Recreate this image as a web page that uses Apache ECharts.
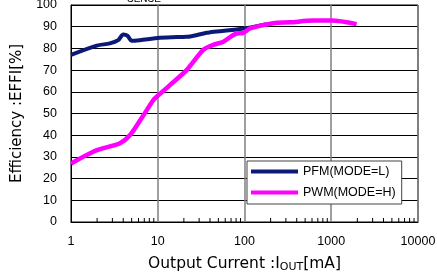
<!DOCTYPE html>
<html>
<head>
<meta charset="utf-8">
<script src="https://cdn.jsdelivr.net/npm/echarts@6/dist/echarts.min.js"></script>
<style>html,body{margin:0;padding:0;background:#fff;}#c{width:437px;height:275px;}</style>
</head>
<body>
<div id="c"></div>
<script>
const pfmCurrent = [1, 1.98, 2.8, 3.5, 4.0, 4.5, 5.0, 6.2, 10.6, 21.5, 23.5, 36.6, 40, 89, 180];
const pfmEffi    = [77, 81.3, 82.3, 83.8, 86.4, 85.8, 83.5, 83.8, 84.9, 85.4, 85.5, 87.2, 87.4, 88.9, 91.2];
const pwmCurrent = [1, 1.8, 2.36, 3.67, 4.8, 6.5, 8.9, 9.7, 13.8, 21.5, 33.5, 43.7, 57, 77.7, 97, 116, 214, 334, 620, 1000, 1960];
const pwmEffi    = [27, 32.4, 34, 36.3, 40.1, 47.8, 56.2, 57.7, 63.1, 70, 79.3, 81.6, 83.1, 86.6, 87.2, 89.2, 91.6, 92, 92.8, 92.8, 91.2];
const minorTickValues = [2,3,4,5,6,7,8,9,20,30,40,50,60,70,80,90,200,300,400,500,600,700,800,900,2000,3000,4000,5000,6000,7000,8000,9000];
const seriesNames = ['PFM(MODE=L)', 'PWM(MODE=H)'];
const yTicks = [0,10,20,30,40,50,60,70,80,90,100];
const xTickLabels = {1: '1', 10: '10', 100: '100', 1000: '1000', 10000: '10000'};

const chart = echarts.init(document.getElementById('c'), null, {renderer: 'canvas'});
const font = 'Liberation Sans, Arial, sans-serif';
const nameFont = 'DejaVu Sans, sans-serif';
chart.setOption({
  animation: false,
  backgroundColor: '#fff',
  grid: {left: 71, right: 19, top: 5, bottom: 53, show: true, borderColor: '#000', borderWidth: 1,
    backgroundColor: 'transparent', containLabel: false, outerBoundsMode: 'none'},
  xAxis: {
    type: 'log', logBase: 10, min: 1, max: 10000,
    axisLine: {show: true, lineStyle: {color: '#000', width: 1}},
    axisTick: {show: false},
    minorTick: {show: false},
    splitLine: {show: true, lineStyle: {color: '#7f7f7f', width: 1.5}},
    axisLabel: {color: '#000', fontFamily: font, fontSize: 12.5, margin: 13,
      formatter: v => xTickLabels[Math.round(v)] || ''},
    name: '{a|Output Current :I}{s|OUT}{a|[mA]}',
    nameLocation: 'middle', nameGap: 32,
    nameTextStyle: {rich: {
      a: {fontFamily: nameFont, fontSize: 15.5, color: '#000'},
      s: {fontFamily: nameFont, fontSize: 11, color: '#000', padding: [8, 0, 0, 0]}
    }}
  },
  yAxis: {
    type: 'value', min: 0, max: 100, interval: 10,
    axisLine: {show: true, lineStyle: {color: '#000'}},
    axisTick: {show: false},
    splitLine: {show: true, lineStyle: {color: '#000', width: 1}},
    axisLabel: {color: '#000', fontFamily: font, fontSize: 12.5, margin: 14,
      formatter: v => yTicks.includes(v) ? String(v) : ''},
    name: 'Efficiency :EFFI[%]', nameLocation: 'middle', nameGap: 46,
    nameTextStyle: {fontFamily: nameFont, fontSize: 15, color: '#000'}
  },
  legend: {
    orient: 'vertical', left: 247, top: 161,
    padding: [4, 6, 5, 4], itemGap: 8,
    itemWidth: 47, itemHeight: 4, icon: 'rect',
    backgroundColor: '#fff', borderColor: '#444', borderWidth: 1,
    textStyle: {fontFamily: font, fontSize: 12.5, color: '#000'},
    data: seriesNames
  },
  graphic: [{
    type: 'text', left: 127, top: -6, silent: true,
    style: {text: 'SENSE', fontFamily: font, fontSize: 10, fill: '#000'}
  }],
  series: [
    {
      name: seriesNames[0], type: 'line', smooth: 0.3, symbol: 'none',
      lineStyle: {color: '#0b1a78', width: 4}, itemStyle: {color: '#0b1a78'},
      data: pfmCurrent.map((c, i) => [c, pfmEffi[i]]), z: 3
    },
    {
      name: seriesNames[1], type: 'line', smooth: 0.3, symbol: 'none',
      lineStyle: {color: '#ff00ff', width: 4.5}, itemStyle: {color: '#ff00ff'},
      data: pwmCurrent.map((c, i) => [c, pwmEffi[i]]), z: 4
    },
    {
      type: 'custom', silent: true, z: 2,
      data: minorTickValues.map(v => [v, 0]),
      renderItem: (params, api) => {
        const p = api.coord([api.value(0), 0]);
        return {type: 'line', shape: {x1: p[0], y1: p[1], x2: p[0], y2: p[1] - 4},
          style: {stroke: '#000', lineWidth: 1}};
      }
    }
  ]
});
</script>
</body>
</html>
